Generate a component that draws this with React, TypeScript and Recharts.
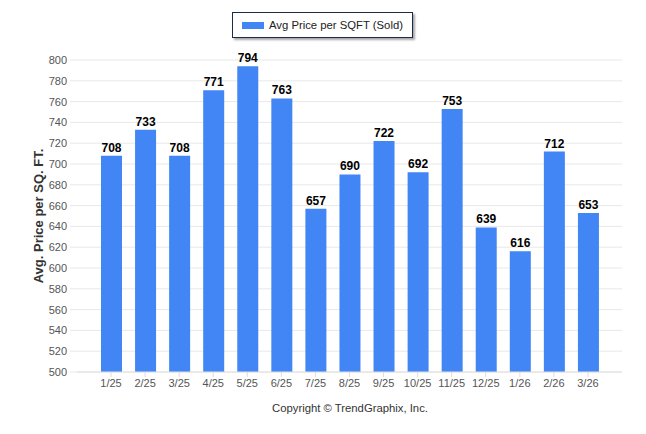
import { BarChart, Bar, XAxis, YAxis, CartesianGrid, LabelList, Label } from 'recharts';

const months = ['1/25', '2/25', '3/25', '4/25', '5/25', '6/25', '7/25', '8/25', '9/25', '10/25', '11/25', '12/25', '1/26', '2/26', '3/26'];
const avgPrice = [708, 733, 708, 771, 794, 763, 657, 690, 722, 692, 753, 639, 616, 712, 653];
const yTicks = [500, 520, 540, 560, 580, 600, 620, 640, 660, 680, 700, 720, 740, 760, 780, 800];

const data = months.map((m, i) => ({ month: m, price: avgPrice[i] }));

const FONT = '"Liberation Sans", Arial, sans-serif';

function LegendBox() {
  return (
    <div
      style={{
        position: 'absolute',
        left: 232,
        top: 12,
        width: 181,
        height: 26,
        boxSizing: 'border-box',
        display: 'flex',
        alignItems: 'center',
        border: '1px solid #1c2b4a',
        boxShadow: '2px 2px 2px rgba(0,0,0,0.35)',
        background: '#fff',
        paddingLeft: 9,
        fontFamily: FONT,
        fontSize: 11.3,
        color: '#222',
      }}
    >
      <span style={{ width: 22, height: 7, background: '#4285f4', display: 'inline-block', marginRight: 5 }} />
      Avg Price per SQFT (Sold)
    </div>
  );
}

export default function App() {
  return (
    <div style={{ position: 'absolute', left: 0, top: 0, width: 646, height: 434, background: '#fff', fontFamily: FONT }}>
      <BarChart width={646} height={434} data={data} margin={{ top: 60, right: 24, left: 0, bottom: 32 }} barSize={21}>
        <CartesianGrid vertical={false} stroke="#e8e8e8" />
        <XAxis
          dataKey="month"
          padding={{ left: 17, right: 17 }}
          tick={{ fill: '#555', fontSize: 11, fontFamily: FONT }}
          tickLine={{ stroke: '#ddd' }}
          tickSize={5}
          axisLine={{ stroke: '#e0e0e0' }}
          height={30}
          interval={0}
        />
        <YAxis
          domain={[500, 800]}
          ticks={yTicks}
          interval={0}
          width={77}
          axisLine={false}
          tickLine={{ stroke: '#e8e8e8' }}
          tickSize={7}
          tickMargin={3}
          tick={{ fill: '#555', fontSize: 11, fontFamily: FONT }}
        >
          <Label
            value="Avg. Price per SQ. FT."
            angle={-90}
            position="insideLeft"
            offset={38}
            style={{ textAnchor: 'middle', fill: '#333', fontSize: 13, fontWeight: 'bold', fontFamily: FONT }}
          />
        </YAxis>
        <Bar dataKey="price" name="Avg Price per SQFT (Sold)" fill="#4285f4" isAnimationActive={false}>
          <LabelList dataKey="price" position="top" offset={4} style={{ fill: '#000', fontSize: 12, fontWeight: 'bold', fontFamily: FONT }} />
        </Bar>
      </BarChart>
      <LegendBox />
      <div style={{ position: 'absolute', top: 402, left: 0, width: 700, textAlign: 'center', fontSize: 11.3, color: '#333' }}>
        Copyright © TrendGraphix, Inc.
      </div>
    </div>
  );
}
